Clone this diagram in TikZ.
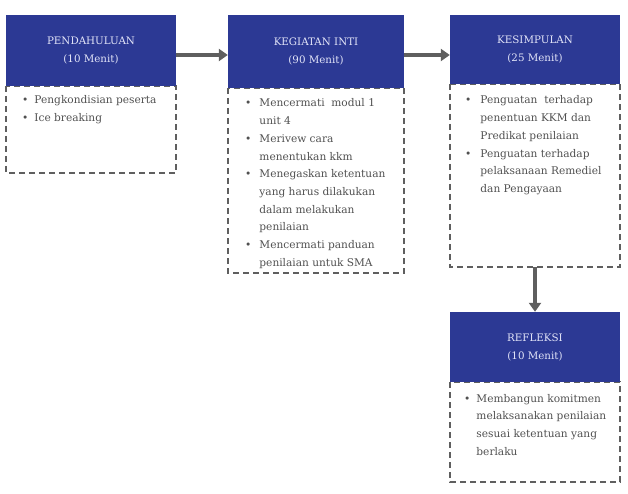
\documentclass[tikz,border=0pt]{standalone}
\usepackage{fontspec}
\setmainfont{DejaVu Serif}
\usetikzlibrary{arrows.meta}
\definecolor{hdrblue}{RGB}{44,57,148}
\definecolor{hdrtext}{RGB}{226,228,248}
\definecolor{bodytext}{RGB}{80,80,80}
\definecolor{linegray}{RGB}{95,95,95}
\newcommand{\bl}{\textbullet}
\begin{document}
\begin{tikzpicture}[x=1pt,y=-1pt,
  header/.style={fill=hdrblue,draw=none,inner sep=0pt,text=hdrtext,align=center,
     font=\fontsize{10.3}{18}\selectfont},
  bodybox/.style={draw=linegray,line width=1.5pt,dash pattern=on 6pt off 4pt},
  bodytxt/.style={anchor=base west,inner sep=0pt,text=bodytext,font=\fontsize{10.6}{17.7}\selectfont},
  flow/.style={draw=linegray,line width=3.5pt,-{Triangle[length=9pt,width=12pt]}}]
\useasboundingbox (0,0) rectangle (628,494);
% bodies
\draw[bodybox] (6,86) rectangle (176,173);
\draw[bodybox] (228,88) rectangle (404,273);
\draw[bodybox] (450,84) rectangle (620,267);
\draw[bodybox] (450,382) rectangle (620,482);
% headers
\node[header,minimum width=170pt,minimum height=71pt] (h1) at (91,50.5) {PENDAHULUAN\\(10 Menit)};
\node[header,minimum width=176pt,minimum height=73pt] (h2) at (316,51.5) {KEGIATAN INTI\\(90 Menit)};
\node[header,minimum width=170pt,minimum height=69pt] (h3) at (535,49.5) {KESIMPULAN\\(25 Menit)};
\node[header,minimum width=170pt,minimum height=70pt] (h4) at (535,347) {REFLEKSI\\(10 Menit)};
% body text
\node[bodytxt] (t1) at (22,104) {\begin{tabular}[t]{@{}l@{\hspace{6pt}}l@{}}
\bl & Pengkondisian peserta\\
\bl & Ice breaking
\end{tabular}};
\node[bodytxt] (t2) at (245,107) {\begin{tabular}[t]{@{}l@{\hspace{8pt}}l@{}}
\bl & Mencermati\ \ modul 1\\
 & unit 4\\
\bl & Merivew cara\\
 & menentukan kkm\\
\bl & Menegaskan ketentuan\\
 & yang harus dilakukan\\
 & dalam melakukan\\
 & penilaian\\
\bl & Mencermati panduan\\
 & penilaian untuk SMA
\end{tabular}};
\node[bodytxt] (t3) at (465,104) {\begin{tabular}[t]{@{}l@{\hspace{9pt}}l@{}}
\bl & Penguatan\ \ terhadap\\
 & penentuan KKM dan\\
 & Predikat penilaian\\
\bl & Penguatan terhadap\\
 & pelaksanaan Remediel\\
 & dan Pengayaan
\end{tabular}};
\node[bodytxt] (t4) at (464,402) {\begin{tabular}[t]{@{}l@{\hspace{6pt}}l@{}}
\bl & Membangun komitmen\\
 & melaksanakan penilaian\\
 & sesuai ketentuan yang\\
 & berlaku
\end{tabular}};
% connectors
\coordinate (a1) at (h1.east |- 0,55);
\draw[flow] (a1) -- (h2.west |- a1);
\draw[flow] (h2.east |- a1) -- (h3.west |- a1);
\coordinate (b3s) at (535,267);
\draw[flow] (b3s) -- (h4.north);
\end{tikzpicture}
\end{document}
